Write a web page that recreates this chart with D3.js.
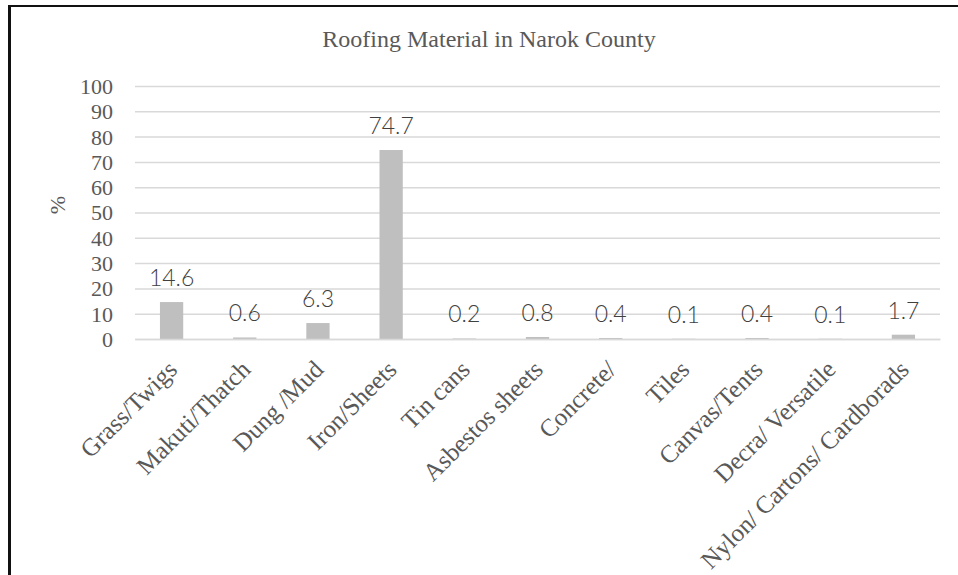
<!DOCTYPE html>
<html>
<head>
<meta charset="utf-8">
<script src="https://cdn.jsdelivr.net/npm/d3@7"></script>
<style>
html,body{margin:0;padding:0;background:#fff;}
svg{display:block;}
</style>
</head>
<body>
<svg id="chart" width="958" height="575"></svg>
<script>
const categories = ["Grass/Twigs","Makuti/Thatch","Dung /Mud","Iron/Sheets","Tin cans","Asbestos sheets","Concrete/","Tiles","Canvas/Tents","Decra/ Versatile","Nylon/ Cartons/ Cardborads"];
const values = [14.6,0.6,6.3,74.7,0.2,0.8,0.4,0.1,0.4,0.1,1.7];
const yTicks = [0,10,20,30,40,50,60,70,80,90,100];
const title = "Roofing Material in Narok County";
const yLabel = "%";

const svg = d3.select("#chart");
const W = 958, H = 575;
const plot = {left:135, right:940, top:86, bottom:339};
const serif = "'Liberation Serif','Times New Roman',serif";

// frame
svg.append("line").attr("x1",9.5).attr("x2",9.5).attr("y1",5).attr("y2",H).attr("stroke","#111").attr("stroke-width",3);
svg.append("line").attr("x1",8).attr("x2",W).attr("y1",6).attr("y2",6).attr("stroke","#111").attr("stroke-width",2);

const x = d3.scaleBand().domain(categories).range([plot.left, plot.right]).paddingInner(0.682).paddingOuter(0.341);
const y = d3.scaleLinear().domain([0,100]).range([plot.bottom, plot.top]);

// gridlines
const yAxis = d3.axisLeft(y).tickValues(yTicks).tickSize(-(plot.right-plot.left)).tickPadding(22);
const gy = svg.append("g").attr("transform",`translate(${plot.left},0)`).call(yAxis);
gy.select(".domain").remove();
gy.selectAll(".tick line").attr("stroke","#d9d9d9").attr("stroke-width",1.5);
gy.selectAll(".tick text").attr("font-family",serif).attr("font-size",22).attr("fill","#595959").attr("x",-22).attr("dy","0.34em");

// bars
svg.append("g").selectAll("rect").data(values).join("rect")
  .attr("x",(d,i)=>x(categories[i]))
  .attr("y",d=>y(d))
  .attr("width",x.bandwidth())
  .attr("height",d=>y(0)-y(d))
  .attr("fill","#bfbfbf");

// x axis
const xAxis = d3.axisBottom(x).tickSize(0).tickPadding(0);
const gx = svg.append("g").attr("transform",`translate(0,${plot.bottom})`).call(xAxis);
gx.select(".domain").attr("stroke","#d9d9d9").attr("stroke-width",1.5);
gx.selectAll(".tick text")
  .attr("font-family",serif).attr("font-size",25).attr("fill","#595959")
  .attr("text-anchor","end").attr("dy",0).attr("y",0)
  .attr("transform","translate(7,32) rotate(-45)");

// data labels
svg.append("g").selectAll("text").data(values).join("text")
  .attr("x",(d,i)=>x(categories[i])+x.bandwidth()/2)
  .attr("y",d=>y(d)-16)
  .attr("text-anchor","middle")
  .attr("font-family","'Lato','Open Sans',sans-serif")
  .attr("font-weight",300)
  .attr("font-size",23).attr("fill","#404040")
  .text(d=>d);

// title
svg.append("text").attr("x",489).attr("y",47).attr("text-anchor","middle")
  .attr("font-family",serif).attr("font-size",24).attr("fill","#595959")
  .text(title);

// y label
svg.append("text").attr("transform",`translate(65,205) rotate(-90)`)
  .attr("text-anchor","middle")
  .attr("font-family",serif).attr("font-size",22).attr("fill","#595959")
  .text(yLabel);
</script>
</body>
</html>
